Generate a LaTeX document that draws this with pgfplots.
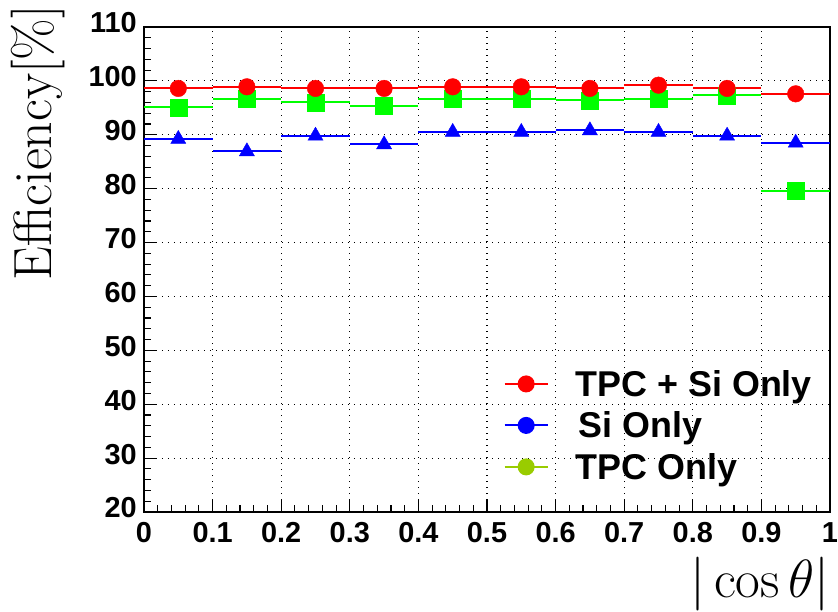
\RequirePackage{fix-cm}
\documentclass[border=0pt]{standalone}
\usepackage{fontspec}
\usepackage{pgfplots}
\pgfplotsset{compat=1.18}
\newfontfamily\hv{Liberation Sans}
\definecolor{rgreen}{rgb}{0,1,0}
\definecolor{lgreen}{rgb}{0.6,0.8,0}
\begin{document}
\begin{tikzpicture}
\begin{axis}[
  scale only axis, width=686bp, height=485bp,
  xmin=0, xmax=1, ymin=20, ymax=110,
  xtick={0,0.1,0.2,0.3,0.4,0.5,0.6,0.7,0.8,0.9,1},
  xticklabels={0,0.1,0.2,0.3,0.4,0.5,0.6,0.7,0.8,0.9,1},
  ytick={20,30,40,50,60,70,80,90,100,110},
  yticklabels={20,30,40,50,60,70,80,90,100,110},
  minor x tick num=4, minor y tick num=4,
  tick pos=left, tick align=inside,
  major tick length=13bp, minor tick length=7.5bp,
  every tick/.style={black, line width=1.1bp},
  axis line style={line width=1.3bp},
  grid=major,
  major grid style={black, line width=1.2bp, dash pattern=on 1.2bp off 4.8bp},
  ticklabel style={font=\hv\bfseries\fontsize{29}{29}\selectfont},
  xticklabel style={anchor=north, inner sep=0pt, yshift=-10bp},
  yticklabel style={anchor=east, inner sep=0pt, xshift=-7bp, yshift=4bp},
  ylabel={Efficiency[\%]},
  ylabel style={at={([xshift=-92bp,yshift=22bp]rel axis cs:0,1)}, anchor=base east, inner sep=0pt, font=\fontsize{54}{54}\selectfont},
  xlabel={$|\cos\theta|$},
  xlabel style={at={(rel axis cs:1,0)}, anchor=north east, inner sep=0pt, yshift=-45bp, font=\fontsize{54}{54}\selectfont},
  legend style={draw=none, fill=none, at={(rel axis cs:0.524,0.2928)}, anchor=north west, inner sep=0pt, row sep=14bp, column sep=27bp, font=\hv\bfseries\fontsize{36}{36}\selectfont, nodes={inner sep=0pt}},
  legend cell align=left,
  legend image code/.code={\draw[#1, mark repeat=2, mark phase=2] plot coordinates {(0bp,0bp) (21.5bp,0bp) (43bp,0bp)};},
]
% TPC Only
\addplot[rgreen, only marks, mark=square*, mark size=8.5bp, mark options={fill=rgreen, draw=rgreen}, forget plot,
  error bars/.cd, x dir=both, x fixed=0.05, error mark=none, error bar style={line width=2bp, rgreen}]
  coordinates {(0.05,95.1) (0.15,96.7) (0.25,96.0) (0.35,95.4) (0.45,96.7) (0.55,96.7) (0.65,96.4) (0.75,96.7) (0.85,97.3) (0.95,79.6)};
% Si Only
\addplot[blue, only marks, mark=triangle*, mark size=8.7bp, mark options={fill=blue, draw=blue}, forget plot,
  error bars/.cd, x dir=both, x fixed=0.05, error mark=none, error bar style={line width=2bp, blue}]
  coordinates {(0.05,89.2) (0.15,86.9) (0.25,89.8) (0.35,88.2) (0.45,90.5) (0.55,90.5) (0.65,90.8) (0.75,90.5) (0.85,89.8) (0.95,88.5)};
% TPC + Si Only
\addplot[red, only marks, mark=*, mark size=8.3bp, mark options={fill=red, draw=red}, forget plot,
  error bars/.cd, x dir=both, x fixed=0.05, error mark=none, error bar style={line width=2bp, red}]
  coordinates {(0.05,98.6) (0.15,98.9) (0.25,98.6) (0.35,98.6) (0.45,98.9) (0.55,98.9) (0.65,98.6) (0.75,99.2) (0.85,98.6) (0.95,97.6)};
\addlegendimage{red, line width=2bp, mark=*, mark size=7.5bp, mark options={solid, fill=red}}
\addlegendentry{TPC + Si Only}
\addlegendimage{blue, line width=2bp, mark=*, mark size=7.5bp, mark options={solid, fill=blue}}
\addlegendentry{\hspace{3bp}Si Only}
\addlegendimage{lgreen, line width=2bp, mark=*, mark size=7.5bp, mark options={solid, fill=lgreen}}
\addlegendentry{TPC Only}
\end{axis}
\pgfresetboundingbox
\path ([xshift=-144bp,yshift=-100bp]current axis.south west) rectangle ([xshift=8bp,yshift=27bp]current axis.north east);
\end{tikzpicture}
\end{document}
